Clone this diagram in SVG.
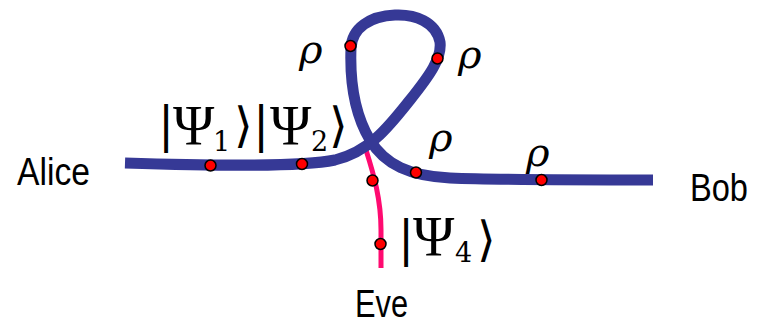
<svg xmlns="http://www.w3.org/2000/svg" width="768" height="326" viewBox="0 0 768 326">
<style>
.blue{fill:none;stroke:#363996;stroke-width:11;stroke-linecap:butt;stroke-linejoin:round}
.pink{fill:none;stroke:#ff0a70;stroke-width:5}
.dot{fill:#ff0000;stroke:#000;stroke-width:1.5}
.name{font-family:"Liberation Sans",Arial,sans-serif;font-size:38px;fill:#000}
.m{font-family:"DejaVu Serif","Liberation Serif",serif;fill:#000;font-size:48px}
.psi{font-family:"Liberation Serif","DejaVu Serif",serif;font-size:56px}
.sub{font-size:27px}
.rho{font-family:"DejaVu Serif","Liberation Serif",serif;font-style:italic;font-size:40px;fill:#000}
</style>
<g id="connectors">
<path class="pink" d="M366,150 C374,175 381,200 381,230 L381,268"/>
<path class="blue" d="M125,163 C220,166 300,167 335,160 C370,152 390,125 410,100 C430,75 442,58 440,42 C436,22 415,14 395,15 C370,16 352,28 351,48 C350,75 352,110 370,140 C385,165 410,176 450,178 C500,180 600,180 653,180"/>
</g>
<g id="dots">
<circle class="dot" cx="210.5" cy="165.5" r="5.5"/>
<circle class="dot" cx="302" cy="164" r="5.5"/>
<circle class="dot" cx="350.5" cy="46" r="5.5"/>
<circle class="dot" cx="437.5" cy="58.5" r="5.5"/>
<circle class="dot" cx="416" cy="172.5" r="5.5"/>
<circle class="dot" cx="541.5" cy="180" r="5.5"/>
<circle class="dot" cx="372.5" cy="180.5" r="5.5"/>
<circle class="dot" cx="380.5" cy="244" r="5.5"/>
</g>
<g id="alice"><text class="name" x="17" y="185" textLength="73" lengthAdjust="spacingAndGlyphs">Alice</text></g>
<g id="bob"><text class="name" x="690" y="200.5" textLength="58" lengthAdjust="spacingAndGlyphs">Bob</text></g>
<g id="eve"><text class="name" x="355" y="316.5" textLength="53" lengthAdjust="spacingAndGlyphs">Eve</text></g>
<g id="psi12">
<text class="m" y="142"><tspan x="158">|</tspan><tspan class="psi" x="173" y="145">Ψ</tspan><tspan class="sub" x="213" y="151">1</tspan><tspan x="234" y="142">⟩</tspan><tspan x="253">|</tspan><tspan class="psi" x="270" y="145">Ψ</tspan><tspan class="sub" x="311" y="151">2</tspan><tspan x="329" y="142">⟩</tspan></text>
</g>
<g id="psi4">
<text class="m" y="256"><tspan x="398">|</tspan><tspan class="psi" x="413" y="256">Ψ</tspan><tspan class="sub" x="455" y="262">4</tspan><tspan x="477" y="256">⟩</tspan></text>
</g>
<g id="rho">
<text class="rho" x="299" y="63">ρ</text>
<text class="rho" x="458" y="68">ρ</text>
<text class="rho" x="429" y="151">ρ</text>
<text class="rho" x="526" y="166">ρ</text>
</g>
</svg>
